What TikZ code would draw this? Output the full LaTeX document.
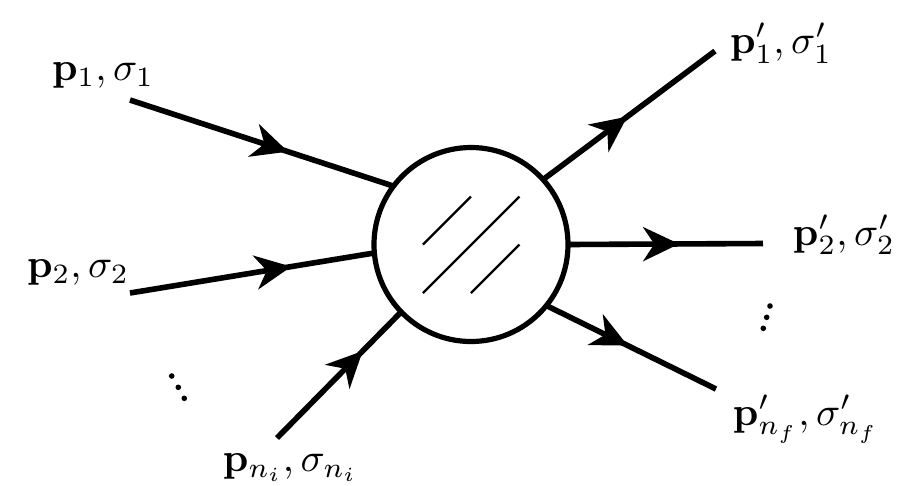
\documentclass[tikz,border=0pt]{standalone}
\usepackage{amsmath}
\usetikzlibrary{arrows.meta,decorations.markings}
\begin{document}
\begin{tikzpicture}[x=0.25pt,y=-0.25pt,
  leg/.style={line width=1.4pt},
  arrowat/.style={postaction={decorate},decoration={markings,
     mark=at position #1 with {\arrow{Stealth[length=9pt,width=8.5pt,inset=2.8pt]}}}},
  lbl/.style={anchor=base west,inner sep=0pt,outer sep=0pt,font=\fontsize{10.4}{12}\selectfont},
  hatch/.style={line width=0.55pt},
  dot/.style={fill=black},
  blob/.style={circle,draw,line width=1.3pt,minimum size=48.5pt,inner sep=0pt,outer sep=0pt}]
\useasboundingbox (0,0) rectangle (903,485);
\node[blob] (c) at (471,244.5) {};
% hatch
\coordinate (h) at (471,244.5);
\draw[hatch] ([shift={(-48,0)}]h) -- ([shift={(0,-48)}]h);
\draw[hatch] ([shift={(-48,48.5)}]h) -- ([shift={(48.5,-48)}]h);
\draw[hatch] ([shift={(0,48.5)}]h) -- ([shift={(48.5,0)}]h);
% endpoints
\coordinate (i1) at (130,100);
\coordinate (i2) at (130,293);
\coordinate (i3) at (277,438);
\coordinate (o1) at (715,51);
\coordinate (o2) at (763,243.5);
\coordinate (o3) at (716,389);
\draw[leg,arrowat=0.6] (i1) -- (c.143);
\draw[leg,arrowat=0.66] (i2) -- (c.185);
\draw[leg,arrowat=0.69] (i3) -- (c.224);
\draw[leg,arrowat=0.49] (c.42) -- (o1);
\draw[leg,arrowat=0.57] (c.0) -- (o2);
\draw[leg,arrowat=0.48] (c.-39) -- (o3);
% labels
\node[lbl] (l1) at (52,80) {$\mathbf{p}_1, \sigma_1$};
\node[lbl] (l2) at (27,277) {$\mathbf{p}_2, \sigma_2$};
\node[lbl] (l3) at (223,471.7) {$\mathbf{p}_{n_i}, \sigma_{n_i}$};
\node[lbl] (r1) at (730,53.3) {$\mathbf{p}'_1, \sigma'_1$};
\node[lbl] (r2) at (793,245) {$\mathbf{p}'_2, \sigma'_2$};
\node[lbl] (r3) at (733,425) {$\mathbf{p}'_{n_f}, \sigma'_{n_f}$};
% dots
\foreach \p in {(171.7,376),(178.3,387.3),(184.3,398.3),(770,306),(766.7,317.3),(763.3,328.3)}
  \fill[dot] \p circle[radius=0.7pt];
\end{tikzpicture}
\end{document}
